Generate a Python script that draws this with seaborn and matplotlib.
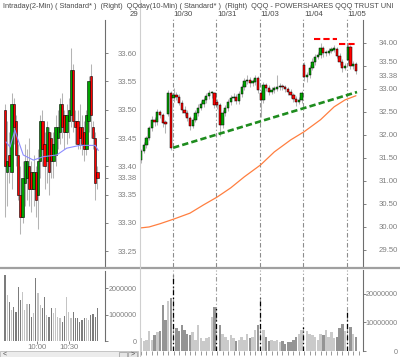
import matplotlib
matplotlib.use("Agg")
import matplotlib.pyplot as plt
from matplotlib.lines import Line2D
from matplotlib.patches import Rectangle
from matplotlib.transforms import blended_transform_factory
import numpy as np
import pandas as pd
import seaborn as sns

# ---------------- data ----------------
# Left panel: intraday 2-minute bars (11/05)
intra_open = [33.50, 33.39, 33.42, 33.39, 33.51, 33.48, 33.42, 33.35, 33.31, 33.37, 33.38, 33.40, 33.39, 33.36, 33.39,
              33.35, 33.41, 33.48, 33.44, 33.41, 33.46, 33.45, 33.41, 33.42, 33.45, 33.46, 33.51, 33.49, 33.46, 33.48,
              33.49, 33.57, 33.48, 33.48, 33.47, 33.47, 33.46, 33.43, 33.48, 33.56, 33.47, 33.45, 33.39]
intra_high = [33.51, 33.48, 33.46, 33.53, 33.52, 33.49, 33.44, 33.40, 33.41, 33.44, 33.43, 33.45, 33.41, 33.42, 33.40,
              33.43, 33.49, 33.50, 33.46, 33.48, 33.47, 33.46, 33.46, 33.49, 33.50, 33.52, 33.53, 33.50, 33.51, 33.52,
              33.61, 33.58, 33.50, 33.50, 33.51, 33.49, 33.48, 33.50, 33.56, 33.58, 33.48, 33.46, 33.40]
intra_low = [33.31, 33.33, 33.37, 33.36, 33.44, 33.40, 33.34, 33.28, 33.30, 33.33, 33.34, 33.33, 33.32, 33.33, 33.31,
             33.29, 33.38, 33.40, 33.36, 33.37, 33.35, 33.38, 33.38, 33.40, 33.43, 33.44, 33.45, 33.43, 33.44, 33.45,
             33.47, 33.46, 33.44, 33.43, 33.43, 33.42, 33.41, 33.42, 33.46, 33.45, 33.43, 33.34, 33.36]
intra_close = [33.40, 33.41, 33.40, 33.51, 33.47, 33.42, 33.35, 33.31, 33.38, 33.41, 33.41, 33.36, 33.36, 33.39, 33.34,
               33.41, 33.48, 33.43, 33.40, 33.47, 33.39, 33.41, 33.44, 33.47, 33.47, 33.51, 33.47, 33.46, 33.49, 33.50,
               33.57, 33.48, 33.47, 33.44, 33.45, 33.44, 33.43, 33.49, 33.55, 33.49, 33.45, 33.37, 33.38]
intra_volume_m = [2.49, 1.74, 1.48, 1.17, 1.30, 1.11, 2.05, 1.55, 1.86, 1.17, 1.38, 1.38, 0.92, 1.05, 2.38,
                  1.81, 1.36, 1.26, 1.67, 0.98, 0.92, 1.23, 1.04, 1.26, 0.92, 0.86, 0.73, 0.95, 1.67, 1.11,
                  0.86, 1.11, 0.88, 0.86, 0.70, 0.79, 0.88, 0.86, 0.79, 0.98, 1.01, 0.92, 1.26]
intra_ma_idx = [0.5, 2.3, 4.5, 6.0, 8.3, 12.9, 17.4, 23.5, 28.0, 34.0, 41.0, 42.4]
intra_ma_val = [33.443, 33.434, 33.464, 33.446, 33.420, 33.411, 33.417, 33.420, 33.432, 33.437, 33.437, 33.428]
intra_time_pos = [14.5, 29.1]
intra_time_labels = ["10:00", "10:30"]
intra_price_ticks = [33.25, 33.30, 33.35, 33.38, 33.40, 33.45, 33.50, 33.55, 33.60]
intra_vol_ticks = [0, 1000000, 2000000]

# Right panel: 10-minute bars, 10/29 - 11/05
d_open = [31.46, 31.66, 31.78, 31.93, 32.15, 32.33, 32.28, 32.50, 32.43, 32.26, 32.45, 32.91,
          32.80, 32.87, 32.83, 32.70, 32.54, 32.48, 32.37, 32.20, 32.33, 32.48, 32.59, 32.67, 32.76, 32.85, 32.91, 32.91,
          32.72, 32.65, 32.22, 32.48, 32.59, 32.72, 32.80, 32.83, 32.74, 32.89, 33.04, 33.17, 33.20, 33.13, 33.15, 33.24,
          32.90, 32.76, 33.09, 33.02, 32.93, 32.98, 33.00, 33.04, 33.07, 33.04, 33.00, 32.93, 32.87, 32.78, 32.72, 32.76,
          33.52, 33.26, 33.30, 33.46, 33.59, 33.70, 33.74, 33.89, 33.78, 33.78, 33.83, 33.85, 33.87, 33.72, 33.59, 33.46,
          33.63, 33.91, 33.50, 33.54]
d_high = [31.70, 31.84, 31.98, 32.20, 32.40, 32.38, 32.56, 32.55, 32.47, 32.33, 32.98, 32.95,
          33.02, 32.93, 32.88, 32.76, 32.62, 32.53, 32.42, 32.39, 32.55, 32.66, 32.73, 32.82, 32.92, 32.98, 32.96, 32.94,
          32.78, 32.69, 32.55, 32.65, 32.78, 32.87, 32.90, 32.88, 32.95, 33.10, 33.24, 33.29, 33.25, 33.22, 33.31, 33.28,
          32.97, 33.14, 33.13, 33.08, 33.05, 33.06, 33.30, 33.12, 33.11, 33.09, 33.05, 32.99, 32.92, 32.84, 32.82, 32.96,
          33.58, 33.36, 33.52, 33.66, 33.76, 33.80, 34.00, 33.93, 33.85, 33.88, 33.91, 33.95, 33.90, 33.78, 33.64, 33.57,
          33.98, 33.95, 33.60, 33.58]
d_low = [31.40, 31.60, 31.72, 31.88, 32.08, 32.20, 32.22, 32.36, 32.18, 32.05, 32.40, 31.68,
         32.72, 32.76, 32.64, 32.47, 32.40, 32.30, 32.10, 32.14, 32.27, 32.42, 32.53, 32.60, 32.70, 32.79, 32.80, 32.58,
         32.56, 31.98, 32.15, 32.42, 32.52, 32.65, 32.73, 32.66, 32.68, 32.82, 32.97, 33.10, 33.05, 33.06, 33.09, 32.90,
         32.39, 32.70, 32.95, 32.87, 32.88, 32.92, 32.95, 32.98, 32.97, 32.94, 32.86, 32.80, 32.71, 32.62, 32.66, 32.70,
         33.18, 33.15, 33.24, 33.40, 33.52, 33.64, 33.68, 33.70, 33.71, 33.73, 33.77, 33.79, 33.66, 33.52, 33.37, 33.40,
         33.55, 33.43, 33.44, 33.33]
d_close = [31.66, 31.78, 31.93, 32.15, 32.33, 32.28, 32.50, 32.43, 32.26, 32.24, 32.91, 31.72,
           32.87, 32.83, 32.70, 32.54, 32.48, 32.37, 32.20, 32.33, 32.48, 32.59, 32.67, 32.76, 32.85, 32.91, 32.91, 32.65,
           32.65, 32.22, 32.48, 32.59, 32.72, 32.80, 32.83, 32.74, 32.89, 33.04, 33.17, 33.20, 33.13, 33.15, 33.24, 32.98,
           32.76, 33.09, 33.02, 32.93, 32.98, 33.00, 33.04, 33.07, 33.04, 33.00, 32.93, 32.87, 32.78, 32.72, 32.76, 32.91,
           33.26, 33.30, 33.46, 33.59, 33.70, 33.74, 33.89, 33.78, 33.78, 33.83, 33.85, 33.87, 33.72, 33.59, 33.46, 33.50,
           33.91, 33.50, 33.54, 33.38]
d_volume_m = [4.5, 3.5, 4.0, 7.0, 4.0, 5.5, 6.5, 7.0, 16.0, 11.0, 17.5, 18.6,
              26.5, 8.0, 7.0, 9.0, 7.5, 6.0, 5.5, 6.5, 4.0, 9.0, 4.5, 3.5, 4.5, 5.0, 12.0, 15.5,
              15.0, 9.0, 6.0, 5.0, 4.0, 5.5, 4.5, 3.5, 4.0, 5.0, 4.0, 6.0, 4.5, 5.0, 7.5, 9.0,
              18.6, 7.5, 5.0, 3.5, 4.0, 3.5, 4.0, 3.0, 3.5, 2.5, 3.0, 3.0, 4.0, 5.0, 6.0, 7.5,
              8.3, 7.0, 6.0, 5.5, 5.0, 4.0, 6.0, 5.5, 7.5, 5.0, 6.5, 4.5, 5.0, 8.0, 9.5, 7.0,
              13.8, 8.5, 6.0, 5.0]
day_start_idx = [12, 28, 44, 60, 76]
day_labels = ["10/30", "10/31", "11/03", "11/04", "11/05"]
first_day_label = "29"
first_day_pos = -4
ma_idx = [0, 3, 7, 12, 18, 23, 28, 33, 38, 44, 49, 55, 60, 66, 71, 75, 79]
ma_val = [29.98, 30.00, 30.07, 30.17, 30.30, 30.48, 30.65, 30.85, 31.09, 31.35, 31.63, 31.89, 32.07, 32.33,
          32.61, 32.76, 32.85]
trend_x = [11.8, 79.4]
trend_y = [31.72, 32.93]
res1_x = [63.6, 72.1]
res1_y = [34.09, 34.09]
res2_x = [72.8, 79.4]
res2_y = [33.98, 33.98]
price_ticks = [29.5, 30.0, 30.5, 31.0, 31.5, 32.0, 32.5, 33.0, 33.5, 34.0]
last_price = 33.38
vol_ticks = [0, 10000000, 20000000]

title_left = "Intraday(2-Min) ( Standard* )  (Right)  QQ"
title_right = "day(10-Min) ( Standard* )  (Right)  QQQ - POWERSHARES QQQ TRUST UNI"

# ---------------- style ----------------
sns.set_style("white")
plt.rcParams["font.family"] = ["Liberation Sans Narrow", "Liberation Sans", "DejaVu Sans"]

W, H = 400, 357
PT = 72 / 100.0
fig = plt.figure(figsize=(W / 100, H / 100), dpi=100)
fig.patch.set_facecolor("white")

GREEN = "#00a400"
RED = "#ff0000"
WICK = "#b4b4b4"
AXC = "#6e6e6e"
LABC = "#808080"
TXT = "#4a4a4a"
DASHDOT = (0, (4, 2, 1, 2))
FS = 5.6
FSV = 5.2


def px_axes(x0, y0, x1, y1):
    ax = fig.add_axes([x0 / W, 1 - y1 / H, (x1 - x0) / W, (y1 - y0) / H])
    ax.set_facecolor("none")
    for s in ("top", "left", "bottom"):
        ax.spines[s].set_visible(False)
    return ax


def right_axis(ax, lo, hi, ticks, labels, total_px, size):
    sp = ax.spines["right"]
    sp.set_visible(True)
    sp.set_color(AXC)
    sp.set_linewidth(0.8)
    sp.set_linestyle((0, (1, 1)))
    sp.set_bounds(lo, hi)
    ax.yaxis.set_ticks_position("right")
    ax.set_yticks(ticks, labels)
    ax.tick_params(axis="y", which="major", direction="out", length=2, width=0.6, colors=AXC,
                   labelcolor=LABC, labelsize=size, pad=total_px * PT - 2,
                   left=False, labelleft=False, right=True, labelright=True)
    for t in ax.yaxis.get_major_ticks():
        t.label2.set_horizontalalignment("right")


def draw_candles(ax, o, h, l, c, width, min_body, lw_edge):
    df = pd.DataFrame({"o": o, "h": h, "l": l, "c": c})
    x = np.arange(len(df))
    ax.vlines(x, df["l"], df["h"], color=WICK, lw=0.75, zorder=2)
    up = (df["c"] >= df["o"]).to_numpy()
    bottom = np.minimum(df["o"], df["c"])
    height = np.maximum((df["c"] - df["o"]).abs(), min_body)
    ax.bar(x, height, width=width, bottom=bottom, color=np.where(up, GREEN, RED),
           edgecolor="black", linewidth=lw_edge, zorder=3)
    return up


# ---------------- left price panel ----------------
axL = px_axes(0, 0, 105, 267)
axL.set_xlim(-2.27, 45.45)
axL.set_ylim(33.222, 33.694)
up_left = draw_candles(axL, intra_open, intra_high, intra_low, intra_close, 1.05, 0.003, 0.4)
sns.lineplot(x=intra_ma_idx, y=intra_ma_val, ax=axL, color="#8c8cff", lw=0.8, zorder=4)
axL.set_xticks([])
axL.set_xlabel("")
axL.set_ylabel("")
right_axis(axL, 33.222, 33.658, intra_price_ticks, [f"{v:.2f}" for v in intra_price_ticks], 32, FS)

# ---------------- right price panel ----------------
axR = px_axes(140, 0, 363, 267)
axR.set_xlim(-0.37, 81.6)
axR.set_ylim(29.13, 34.93)
for d in day_start_idx:
    axR.axvline(d - 0.4, ymin=0, ymax=1 - 19 / 267, color="#8c8c8c", lw=0.8, ls=DASHDOT, zorder=1)
up_right = draw_candles(axR, d_open, d_high, d_low, d_close, 0.85, 0.03, 0.35)
sns.lineplot(x=ma_idx, y=ma_val, ax=axR, color="#ff7f40", lw=0.9, zorder=4)
axR.plot(trend_x, trend_y, color="#1e8c1e", lw=1.9, dashes=(2.4, 1.2), zorder=5)
axR.plot(res1_x, res1_y, color=RED, lw=1.5, dashes=(3, 1.5), zorder=5)
axR.plot(res2_x, res2_y, color=RED, lw=1.5, dashes=(3, 1.5), zorder=5)
axR.set_xticks([])
axR.set_xlabel("")
axR.set_ylabel("")
right_axis(axR, 29.13, 34.5, price_ticks, [f"{v:.2f}" for v in price_ticks], 35, FS)
for t, v in zip(axR.yaxis.get_major_ticks(), price_ticks):
    if v == 33.5:
        t.label2.set_verticalalignment("bottom")
axR.annotate(f"{last_price:.2f}", xy=(1, last_price), xycoords=("axes fraction", "data"),
             xytext=(35 * PT, -1.5 * PT), textcoords="offset points", ha="right", va="top",
             fontsize=FS, color=LABC)

# date labels
trans_d = blended_transform_factory(axR.transData, fig.transFigure)
axR.text(first_day_pos, 1 - 15 / H, first_day_label, transform=trans_d, ha="left", va="center",
         fontsize=FS, color=TXT, clip_on=False)
for d, lab in zip(day_start_idx, day_labels):
    axR.text(d, 1 - 15 / H, lab, transform=trans_d, ha="left", va="center", fontsize=FS, color=TXT,
             clip_on=False)

# ---------------- left volume panel ----------------
axLV = px_axes(0, 270, 105, 341)
axLV.set_xlim(-2.27, 45.45)
axLV.set_ylim(0, 2.68e6)
xl = np.arange(len(intra_volume_m))
axLV.bar(xl, np.array(intra_volume_m) * 1e6, width=0.55,
         color=np.where(up_left, "#c4c4c4", "#7c7c7c"), linewidth=0)
axLV.set_xticks(intra_time_pos, intra_time_labels)
axLV.tick_params(axis="x", direction="out", length=2, width=0.6, colors=AXC, labelcolor=LABC,
                 labelsize=FS, pad=0.5, bottom=True)
right_axis(axLV, 0, 2.68e6, intra_vol_ticks, [str(v) for v in intra_vol_ticks], 32, FSV)

# ---------------- right volume panel ----------------
axRV = px_axes(140, 270, 363, 351)
axRV.set_xlim(-0.37, 81.6)
axRV.set_ylim(0, 28.4e6)
vol_r = np.array(d_volume_m) * 1e6
xr = np.arange(len(vol_r))
is_first = np.isin(xr, day_start_idx)
for d in day_start_idx:
    axRV.axvline(d - 0.4, color="#9a9a9a", lw=0.8, ls=DASHDOT, zorder=1)
axRV.bar(xr[~is_first], vol_r[~is_first], width=0.9,
         color=np.where(up_right[~is_first], "#cacaca", "#949494"), linewidth=0, zorder=2)
axRV.vlines(xr[is_first] - 0.4, 0, vol_r[is_first], color="black", lw=0.9, linestyles=DASHDOT, zorder=3)
axRV.set_xticks(np.arange(0, 82, 2))
axRV.tick_params(axis="x", direction="out", length=3, width=0.5, colors=AXC, labelbottom=False, bottom=True)
right_axis(axRV, 0, 28.4e6, vol_ticks, [str(v) for v in vol_ticks], 35, FSV)

# ---------------- frame decorations ----------------
fig.add_artist(Line2D([0, 1], [1 - 268 / H] * 2, color="#a0a0a0", lw=1.6))
fig.add_artist(Line2D([139.5 / W] * 2, [0, 1], color="#cfcfcf", lw=0.8))
fig.add_artist(Rectangle((0, 0), 138 / W, 6 / H, transform=fig.transFigure, facecolor="#ececec",
                         edgecolor="#bdbdbd", lw=0.6))
fig.add_artist(Rectangle((119 / W, 0.5 / H), 8 / W, 5 / H, transform=fig.transFigure, facecolor="#e4e4e4",
                         edgecolor="#9a9a9a", lw=0.5))
fig.add_artist(Rectangle((128 / W, 0.5 / H), 9 / W, 5 / H, transform=fig.transFigure, facecolor="#e4e4e4",
                         edgecolor="#9a9a9a", lw=0.5))
fig.text(3 / W, 3 / H, "<", fontsize=5, color=TXT, va="center", ha="left")
fig.text(132.5 / W, 3 / H, ">", fontsize=5, color=TXT, va="center", ha="center")

# titles
fig.text(3 / W, 1 - 7 / H, title_left, fontsize=5.3, color=TXT, va="center", ha="left")
fig.text(138 / W, 1 - 7 / H, title_right, fontsize=5.3, color=TXT, va="center", ha="left")

fig.savefig("out.png", dpi=100, facecolor="white")
